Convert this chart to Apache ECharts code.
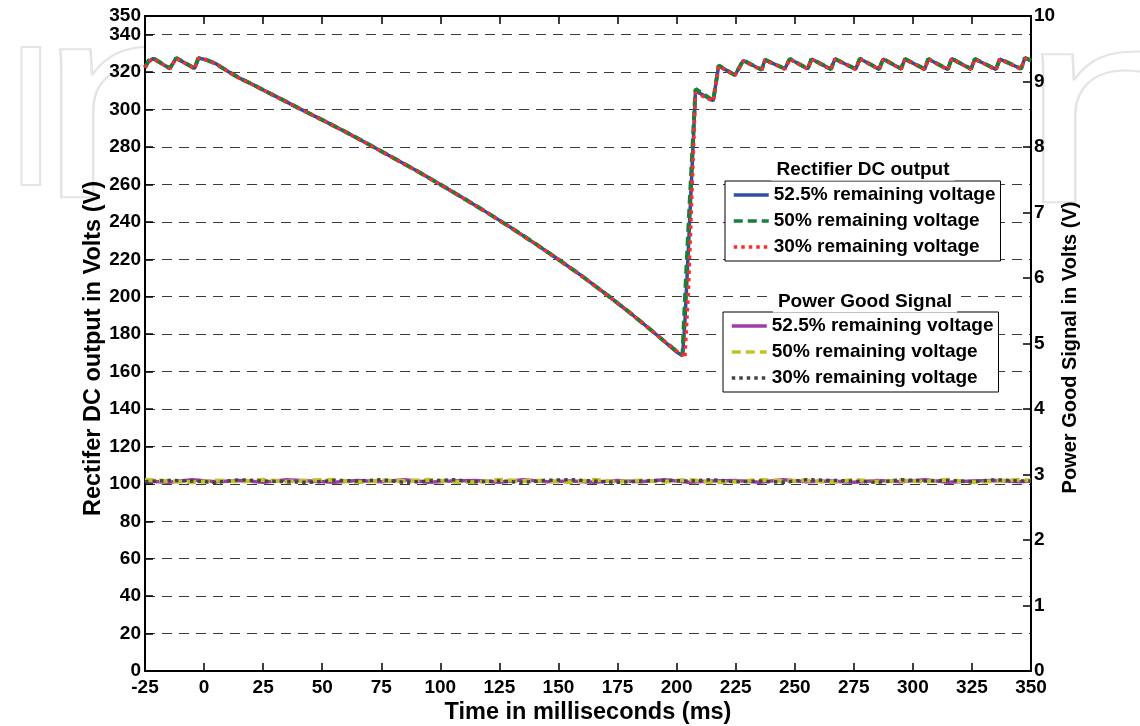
<!DOCTYPE html>
<html>
<head>
<meta charset="utf-8">
<script src="https://cdn.jsdelivr.net/npm/echarts@6/dist/echarts.min.js"></script>
<style>html,body{margin:0;padding:0;background:#fff}#c{width:1140px;height:726px}</style>
</head>
<body>
<div id="c"></div>
<script>
// ---- data ----
const dcTime = [-25,-23.5,-21.5,-14.5,-11.8,-4,-2.4,1,5,10,
  15,20,25,30,40,50,60,70,80,90,
  100,110,120,130,140,150,160,170,180,190,
  200,202.5,203.5,205,208,215.5,217.8,224.7,228.2,236,
  237.4,245.8,247.9,255.5,257.1,265.3,267,275.8,277.6,285.7,
  287.4,295,296.6,305,306.5,314.8,316.4,324.6,326.2,335.2,
  336.8,345.8,347.4,350];
const dc52 = [322.5,325.8,327.3,322,327.5,322,327.5,326.6,324.5,320.5,
  316.8,313.8,310.5,307.3,300.8,294.5,288,281.2,274.3,267.3,
  260,252.5,244.8,236.8,228.5,219.9,211,201.5,191.7,181.3,
  170.5,168.5,186,226,310,304.7,323.4,318.4,326.2,321.3,
  326.6,321.8,327,321.8,327,321.6,327,321.7,327.2,321.6,
  327,321.8,327,321.6,327,321.5,327.2,321.7,327,321.5,
  327,321.8,327.5,326.2];
const dc50 = [322.5,326.2,327.4,322,327.6,322,327.6,326.6,324.5,320.5,
  316.8,313.8,310.5,307.3,300.8,294.5,288,281.2,274.3,267.3,
  260,252.5,244.8,236.8,228.5,219.9,211,201.5,191.7,181.3,
  170.8,169,198,237,311,304.8,323.6,318.4,326.3,321.3,
  326.7,321.8,327.1,321.8,327.1,321.6,327.1,321.7,327.3,321.6,
  327.1,321.8,327.1,321.6,327.1,321.5,327.3,321.7,327.1,321.5,
  327.1,321.8,327.6,326.3];
const dc30 = [322.3,325.5,327.2,321.8,327.4,321.8,327.4,326.5,324.4,320.4,
  316.7,313.7,310.4,307.2,300.7,294.4,287.9,281.1,274.2,267.2,
  259.9,252.4,244.7,236.7,228.4,219.8,210.9,201.4,191.6,181.2,
  171,169.2,167.2,203,309,304.5,323.2,318.2,326,321.1,
  326.5,321.6,326.9,321.6,326.9,321.4,326.9,321.5,327.1,321.4,
  326.9,321.6,326.9,321.4,326.9,321.3,327.1,321.5,326.9,321.3,
  326.9,321.6,327.4,326];

const pgTime = [-25,-15,-5,5,15,25,35,45,55,65,
  75,85,95,105,115,125,135,145,155,165,
  175,185,195,205,215,225,235,245,255,265,
  275,285,295,305,315,325,335,345,350];
const pg52 = [2.90,2.88,2.92,2.89,2.91,2.88,2.92,2.90,2.88,2.91,
  2.89,2.92,2.88,2.90,2.91,2.88,2.92,2.89,2.90,2.88,
  2.91,2.89,2.92,2.88,2.90,2.91,2.88,2.92,2.89,2.90,
  2.88,2.91,2.89,2.92,2.88,2.90,2.91,2.89,2.90];
const pg50 = [2.92,2.90,2.88,2.91,2.89,2.92,2.89,2.91,2.92,2.88,
  2.91,2.90,2.92,2.89,2.88,2.92,2.90,2.91,2.88,2.92,
  2.89,2.91,2.89,2.92,2.88,2.89,2.92,2.90,2.91,2.88,
  2.92,2.89,2.91,2.89,2.92,2.88,2.90,2.92,2.91];
const pg30 = [2.89,2.91,2.90,2.88,2.92,2.90,2.89,2.88,2.91,2.90,
  2.92,2.88,2.90,2.92,2.89,2.90,2.88,2.91,2.92,2.90,
  2.88,2.90,2.91,2.90,2.92,2.89,2.90,2.88,2.92,2.91,
  2.90,2.88,2.92,2.90,2.91,2.89,2.92,2.90,2.90];

const legendLabels = ['52.5% remaining voltage','50% remaining voltage','30% remaining voltage'];
const dcNames = ['DC 52.5','DC 50','DC 30'];
const pgNames = ['PG 52.5','PG 50','PG 30'];
const legendTitles = ['Rectifier DC output','Power Good Signal'];
const xTitle = 'Time in milliseconds (ms)';
const yLeftTitle = 'Rectifer DC output in Volts (V)';
const yRightTitle = 'Power Good Signal in Volts (V)';

// ---- chart ----
const FONT = 'Liberation Sans, Arial, Helvetica, sans-serif';
const zip = (t, v) => t.map((x, i) => [x, v[i]]);
const labelOf = {};
dcNames.forEach((n, i) => labelOf[n] = legendLabels[i]);
pgNames.forEach((n, i) => labelOf[n] = legendLabels[i]);

const lbl = {fontSize: 19, fontWeight: 'bold', color: '#000', fontFamily: FONT};
const bigName = {fontSize: 23.5, fontWeight: 'bold', color: '#000', fontFamily: FONT};
const axLine = {show: true, onZero: false, lineStyle: {color: '#000', width: 2}};
const tick = {inside: true, length: 8, lineStyle: {color: '#000', width: 1.5}};
const wm = {fill: 'none', stroke: '#e4e4e4', lineWidth: 2, fontFamily: 'Liberation Sans, Arial, sans-serif'};

const chart = echarts.init(document.getElementById('c'), null, {renderer: 'canvas'});
chart.setOption({
  animation: false,
  backgroundColor: '#fff',
  grid: {left: 145, right: 109, top: 16, bottom: 55, containLabel: false, outerBoundsMode: 'none',
    show: true, backgroundColor: '#fff', borderWidth: 0},
  xAxis: [{
    type: 'value', min: -25, max: 350, interval: 25, position: 'bottom',
    name: xTitle, nameLocation: 'middle', nameGap: 30, nameMoveOverlap: false, nameTextStyle: bigName,
    axisLine: axLine, axisTick: tick,
    axisLabel: Object.assign({margin: 7, showMinLabel: true, showMaxLabel: true}, lbl),
    splitLine: {show: false}
  }, {
    type: 'value', min: -25, max: 350, interval: 25, position: 'top',
    axisLine: axLine, axisTick: tick,
    axisLabel: {show: false},
    splitLine: {show: false}
  }],
  yAxis: [{
    type: 'value', min: 0, max: 350, interval: 20, position: 'left',
    name: yLeftTitle, nameLocation: 'middle', nameGap: 39, nameRotate: 90, nameMoveOverlap: false,
    nameTextStyle: Object.assign({padding: [0, 10, 0, 0]}, bigName),
    axisLine: axLine, axisTick: tick,
    axisLabel: Object.assign({margin: 4, showMinLabel: true, showMaxLabel: false}, lbl),
    splitLine: {show: true, lineStyle: {color: '#3a3a3a', width: 1, type: [10, 7]}}
  }, {
    type: 'value', min: 0, max: 10, interval: 1, position: 'right',
    name: yRightTitle, nameLocation: 'middle', nameGap: 29, nameRotate: 90, nameMoveOverlap: false,
    nameTextStyle: {padding: [0, 8, 0, 0], fontSize: 20, fontWeight: 'bold', color: '#000', fontFamily: FONT},
    axisLine: axLine, axisTick: tick,
    axisLabel: Object.assign({margin: 3, showMinLabel: true, showMaxLabel: true}, lbl),
    splitLine: {show: false}
  }, {
    // companion left axis that carries only the top end label (350)
    type: 'value', min: 0, max: 350, interval: 350, position: 'left', offset: 0,
    axisLine: {show: false, onZero: false}, axisTick: {show: false}, splitLine: {show: false},
    axisLabel: Object.assign({margin: 4, showMinLabel: true, showMaxLabel: true,
      formatter: v => (v === 350 ? '350' : '')}, lbl)
  }],
  legend: [{
    data: dcNames, orient: 'vertical', left: 725, top: 181, z: 5,
    backgroundColor: '#fff', borderColor: '#000', borderWidth: 1,
    padding: [4, 5, 4, 7], itemWidth: 35, itemHeight: 14, itemGap: 6,
    itemStyle: {opacity: 0}, lineStyle: {width: 3.5},
    textStyle: Object.assign({lineHeight: 20}, lbl),
    formatter: n => labelOf[n], selectedMode: false
  }, {
    data: pgNames, orient: 'vertical', left: 723, top: 312, z: 5,
    backgroundColor: '#fff', borderColor: '#000', borderWidth: 1,
    padding: [4, 5, 4, 7], itemWidth: 35, itemHeight: 14, itemGap: 6,
    itemStyle: {opacity: 0}, lineStyle: {width: 3.5},
    textStyle: Object.assign({lineHeight: 20}, lbl),
    formatter: n => labelOf[n], selectedMode: false
  }],
  graphic: [{
    type: 'text', x: 3, y: 30, z: -10, silent: true,
    style: Object.assign({text: 'I', fontSize: 200}, wm)
  }, {
    type: 'text', x: 36, y: -20, z: -10, scaleX: 1.3, silent: true,
    style: Object.assign({text: 'n', fontSize: 280}, wm)
  }, {
    type: 'text', x: 1018, y: -15, z: -10, scaleX: 1.3, silent: true,
    style: Object.assign({text: 'n', fontSize: 280}, wm)
  }, {
    type: 'text', x: 863, y: 170, z: 100,
    style: {text: legendTitles[0], align: 'center', verticalAlign: 'middle',
      font: 'bold 19px ' + FONT, fill: '#000', backgroundColor: '#fff', padding: [1, 5]}
  }, {
    type: 'text', x: 865, y: 302, z: 100,
    style: {text: legendTitles[1], align: 'center', verticalAlign: 'middle',
      font: 'bold 19px ' + FONT, fill: '#000', backgroundColor: '#fff', padding: [1, 5]}
  }],
  series: [
    {name: dcNames[0], type: 'line', yAxisIndex: 0, data: zip(dcTime, dc52), symbol: 'none',
     lineStyle: {color: '#2f4fa2', width: 3.5}, itemStyle: {color: '#2f4fa2'}},
    {name: dcNames[1], type: 'line', yAxisIndex: 0, data: zip(dcTime, dc50), symbol: 'none',
     lineStyle: {color: '#17803a', width: 4, type: [9, 5]}, itemStyle: {color: '#17803a'}},
    {name: dcNames[2], type: 'line', yAxisIndex: 0, data: zip(dcTime, dc30), symbol: 'none',
     lineStyle: {color: '#ff2a2a', width: 3.5, type: [3.5, 4]}, itemStyle: {color: '#ff2a2a'}},
    {name: pgNames[0], type: 'line', yAxisIndex: 1, data: zip(pgTime, pg52), symbol: 'none',
     lineStyle: {color: '#a03ca8', width: 3.5}, itemStyle: {color: '#a03ca8'}},
    {name: pgNames[1], type: 'line', yAxisIndex: 1, data: zip(pgTime, pg50), symbol: 'none',
     lineStyle: {color: '#c4c22c', width: 4, type: [9, 5]}, itemStyle: {color: '#c4c22c'}},
    {name: pgNames[2], type: 'line', yAxisIndex: 1, data: zip(pgTime, pg30), symbol: 'none',
     lineStyle: {color: '#444444', width: 3.5, type: [3.5, 4]}, itemStyle: {color: '#444444'}}
  ]
});
</script>
</body>
</html>
